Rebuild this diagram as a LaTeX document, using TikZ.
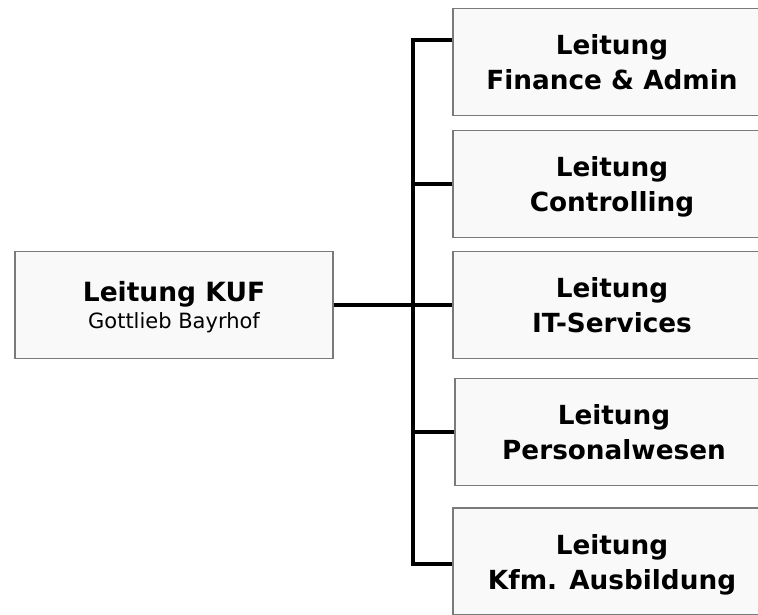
\documentclass[tikz,border=0pt]{standalone}
\usepackage{fontspec}
\setmainfont{DejaVu Sans}
\definecolor{boxfill}{HTML}{F9F9F9}
\definecolor{boxline}{HTML}{7A7A7A}
\begin{document}
\begin{tikzpicture}[x=1pt,y=-1pt,
  unit/.style={draw=boxline, fill=boxfill, line width=1.8pt,
    minimum width=318pt, minimum height=107pt, inner sep=0pt, text depth=0pt,
    align=center, font=\fontsize{26.3}{35}\selectfont\bfseries},
  link/.style={line width=3.2pt}]
\useasboundingbox (0,0) rectangle (758,614);
\clip (0,0) rectangle (758,614);
\node[unit] (kuf) at (174,305) {{\fontsize{26.5}{30}\selectfont\bfseries Leitung KUF}\\[-7.5pt]{\fontsize{21}{26}\selectfont\mdseries Gottlieb Bayrhof}};
\node[unit] (fin) at (612,62) {Leitung\\Finance \& Admin};
\node[unit] (con) at (612,184) {Leitung\\Controlling};
\node[unit] (its) at (612,305) {Leitung\\IT-Services};
\node[unit] (per) at (614,432) {Leitung\\Personalwesen};
\node[unit] (kfm) at (612,561.5) {Leitung\\Kfm. Ausbildung};
\coordinate (bustop) at (413,40);
\coordinate (busbot) at (413,564);
\draw[link] (bustop -| fin.west) -- (bustop) -- (busbot) -- (busbot -| kfm.west);
\draw[link] (kuf.east) -- (its.west);
\draw[link] (con.west) -- (con.west -| bustop);
\draw[link] (per.west) -- (per.west -| bustop);
\end{tikzpicture}
\end{document}
